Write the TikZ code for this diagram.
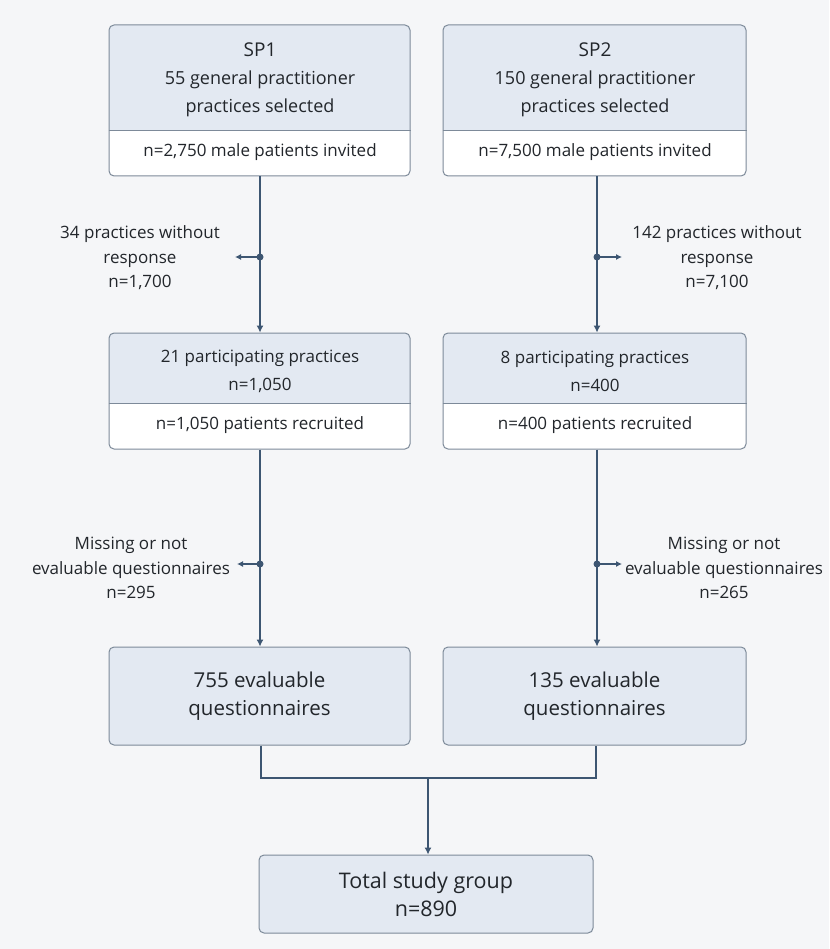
\documentclass[tikz,border=0pt]{standalone}
\usepackage{fontspec}
\setmainfont{Open Sans}
\usetikzlibrary{arrows.meta}
\definecolor{bgc}{HTML}{F5F6F8}
\definecolor{topc}{HTML}{E3E9F2}
\definecolor{edgec}{HTML}{7D8A99}
\definecolor{linec}{HTML}{3D5672}
\definecolor{txtc}{HTML}{22262B}
\begin{document}
\begin{tikzpicture}[x=1pt,y=-1pt,
  boxframe/.style={draw=edgec,line width=1pt,rounded corners=5pt,inner sep=0pt},
  txt/.style={text=txtc,font=\fontsize{17}{28}\selectfont,align=center,inner sep=0pt},
  toptxt/.style={txt,font=\fontsize{18}{28}\selectfont},
  bigtxt/.style={txt,font=\fontsize{20.5}{28}\selectfont},
  head/.style={text=txtc,font=\fontsize{19}{28}\selectfont,inner sep=0pt},
  lab/.style={text=txtc,font=\fontsize{17}{24.5}\selectfont,align=center,inner sep=0pt},
  flow/.style={draw=linec,line width=1.1pt,-{Latex[length=7pt,width=7pt]}},
  side/.style={draw=linec,line width=1.1pt,-{Latex[length=6pt,width=6pt]}},
  joint/.style={circle,fill=linec,inner sep=0pt,minimum size=7pt}]
\useasboundingbox (0,0) rectangle (829,949);
\fill[bgc] (0,0) rectangle (829,949);

% ---------- fills ----------
\begin{scope}
\clip[rounded corners=5pt] (109,25) rectangle (410,176);
\fill[topc] (109,25) rectangle (410,130);
\fill[white] (109,130) rectangle (410,176);
\end{scope}
\begin{scope}
\clip[rounded corners=5pt] (443,25) rectangle (746,176);
\fill[topc] (443,25) rectangle (746,130);
\fill[white] (443,130) rectangle (746,176);
\end{scope}
\begin{scope}
\clip[rounded corners=5pt] (109,333) rectangle (410,449);
\fill[topc] (109,333) rectangle (410,403);
\fill[white] (109,403) rectangle (410,449);
\end{scope}
\begin{scope}
\clip[rounded corners=5pt] (443,333) rectangle (746,449);
\fill[topc] (443,333) rectangle (746,403);
\fill[white] (443,403) rectangle (746,449);
\end{scope}

% ---------- boxes ----------
\node[boxframe,minimum width=301pt,minimum height=151pt] (sp1) at (259.5,100.5) {};
\node[boxframe,minimum width=303pt,minimum height=151pt] (sp2) at (594.5,100.5) {};
\draw[edgec,line width=0.8pt] (sp1.west |- 0,130) -- (sp1.east |- 0,130);
\draw[edgec,line width=0.8pt] (sp2.west |- 0,130) -- (sp2.east |- 0,130);

\node[head] (sp1h) at (260,50) {SP1};
\node[toptxt] (sp1t) at (260,94) {55 general practitioner\\practices selected};
\node[txt] (sp1n) at (260,152) {n=2,750 male patients invited};
\node[head] (sp2h) at (595,50) {SP2};
\node[toptxt] (sp2t) at (595,94) {150 general practitioner\\practices selected};
\node[txt] (sp2n) at (595,152) {n=7,500 male patients invited};

\node[boxframe,minimum width=301pt,minimum height=116pt] (p1) at (259.5,391) {};
\node[boxframe,minimum width=303pt,minimum height=116pt] (p2) at (594.5,391) {};
\draw[edgec,line width=0.8pt] (p1.west |- 0,403) -- (p1.east |- 0,403);
\draw[edgec,line width=0.8pt] (p2.west |- 0,403) -- (p2.east |- 0,403);
\node[txt] (p1t) at (260,371.5) {21 participating practices\\n=1,050};
\node[txt] (p1n) at (260,425) {n=1,050 patients recruited};
\node[txt] (p2t) at (595,371.5) {8 participating practices\\n=400};
\node[txt] (p2n) at (595,425) {n=400 patients recruited};

\node[boxframe,fill=topc,minimum width=301pt,minimum height=98pt,bigtxt] (e1) at (259.5,696) {755 evaluable\\questionnaires};
\node[boxframe,fill=topc,minimum width=303pt,minimum height=98pt,bigtxt] (e2) at (594.5,696) {135 evaluable\\questionnaires};

\node[boxframe,fill=topc,minimum width=334pt,minimum height=78pt,bigtxt,font=\fontsize{21.5}{28}\selectfont] (tot) at (426,894) {Total study group\\n=890};

% ---------- side labels ----------
\node[lab] (x1) at (140,258) {34 practices without\\response\\n=1,700};
\node[lab] (x2) at (717,258) {142 practices without\\response\\n=7,100};
\node[lab] (m1) at (131,568) {Missing or not\\evaluable questionnaires\\n=295};
\node[lab] (m2) at (724,568) {Missing or not\\evaluable questionnaires\\n=265};

% ---------- connectors ----------
\node[joint] (j1) at (260,257) {};
\node[joint] (j2) at (597,257) {};
\node[joint] (j3) at (260,564) {};
\node[joint] (j4) at (597,564) {};
\coordinate (t1) at (235,257);
\coordinate (t2) at (622,257);
\coordinate (t3) at (237,564);
\coordinate (t4) at (622,564);

\draw[flow] (sp1.south -| j1) -- (p1.north -| j1);
\draw[flow] (sp2.south -| j2) -- (p2.north -| j2);
\draw[flow] (p1.south -| j3) -- (e1.north -| j3);
\draw[flow] (p2.south -| j4) -- (e2.north -| j4);
\draw[side] (j1.center) -- (t1);
\draw[side] (j2.center) -- (t2);
\draw[side] (j3.center) -- (t3);
\draw[side] (j4.center) -- (t4);

\coordinate (mg) at (428,778);
\draw[draw=linec,line width=1.1pt] (e1.south -| 261,0) |- (mg) -| (e2.south -| 596,0);
\draw[flow] (mg) -- (tot.north -| mg);
\end{tikzpicture}
\end{document}
